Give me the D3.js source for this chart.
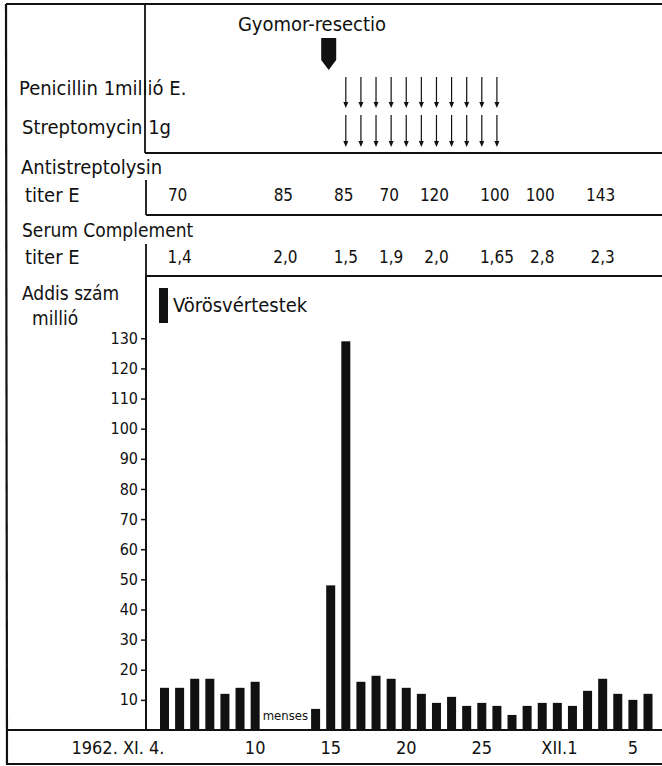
<!DOCTYPE html>
<html>
<head>
<meta charset="utf-8">
<script src="https://cdn.jsdelivr.net/npm/d3@7"></script>
<style>
  body { margin: 0; background: #fff; }
  svg text { font-family: "DejaVu Sans Condensed", "DejaVu Sans", sans-serif; fill: #111; }
</style>
</head>
<body>
<div id="chart"></div>
<script>
'use strict';

// red cell counts (Addis, millions) per day, day = day of November 1962 (31 = XII.1)
var barDays   = [4, 5, 6, 7, 8, 9, 10, 14, 15, 16, 17, 18, 19, 20, 21, 22, 23, 24, 25, 26, 27, 28, 29, 30, 31, 32, 33, 34, 35, 36];
var barValues = [14, 14, 17, 17, 12, 14, 16, 7, 48, 129, 16, 18, 17, 14, 12, 9, 11, 8, 9, 8, 5, 8, 9, 9, 8, 13, 17, 12, 10, 12];

// lab tests
var testDays = [5, 12, 16, 19, 22, 26, 29, 33];
var asoTiter = ['70', '85', '85', '70', '120', '100', '100', '143'];
var complementTiter = ['1,4', '2,0', '1,5', '1,9', '2,0', '1,65', '2,8', '2,3'];

// treatment
var surgeryDay = 15;
var antibioticDays = [16, 17, 18, 19, 20, 21, 22, 23, 24, 25, 26];
var mensesDays = [11, 12, 13];

// x axis labels
var xTickDays = [4, 10, 15, 20, 25, 31, 35];
var xTickLabels = ['1962. XI. 4.', '10', '15', '20', '25', 'XII.1', '5'];
var yTicks = [10, 20, 30, 40, 50, 60, 70, 80, 90, 100, 110, 120, 130];

var width = 662, height = 766;
var ink = '#111';

var svg = d3.select('#chart').append('svg')
    .attr('width', width)
    .attr('height', height);

// scales
var x = d3.scaleLinear().domain([4, 36]).range([164.5, 648]);
var y = d3.scaleLinear().domain([0, 130]).range([730, 338.3]);

function line(x1, y1, x2, y2, w) {
    svg.append('line')
        .attr('x1', x1).attr('y1', y1).attr('x2', x2).attr('y2', y2)
        .attr('stroke', ink).attr('stroke-width', w || 1.8);
}

function label(txt, tx, ty, size, anchor) {
    return svg.append('text')
        .attr('x', tx).attr('y', ty)
        .attr('dominant-baseline', 'central')
        .attr('text-anchor', anchor || 'start')
        .style('font-size', (size || 20) + 'px')
        .text(txt);
}

// frame and table rules
line(6, 4, 662, 4, 2.2);
line(6, 4, 7, 764, 2.2);
line(6, 764, 662, 764, 2.2);
line(145, 4, 145, 153);
line(145, 153, 662, 153);
line(146, 180, 146, 215);
line(146, 215, 662, 215);
line(146, 244, 146, 276);
line(146, 276, 662, 276);
line(146, 276, 146, 730, 2);
line(6, 730, 662, 730, 2);

// surgery marker
var sx = x(surgeryDay) - 2;
label('Gyomor-resectio', 312, 24, 20, 'middle');
svg.append('path')
    .attr('d', 'M' + (sx - 7.5) + ',38 h15 v22 l-7.5,10 l-7.5,-10 Z')
    .attr('fill', ink);

// antibiotic rows
label('Penicillin 1millió E.', 19, 88);
label('Streptomycin 1g', 22, 127);

[[77, 108], [115, 147]].forEach(function(r) {
    var g = svg.append('g');
    g.selectAll('line')
        .data(antibioticDays)
        .enter().append('line')
        .attr('x1', function(d) { return x(d); })
        .attr('x2', function(d) { return x(d); })
        .attr('y1', r[0])
        .attr('y2', r[1] - 5)
        .attr('stroke', ink)
        .attr('stroke-width', 1.2);
    g.selectAll('path')
        .data(antibioticDays)
        .enter().append('path')
        .attr('d', function(d) {
            var ax = x(d);
            return 'M' + (ax - 2.5) + ',' + (r[1] - 6) + ' L' + (ax + 2.5) + ',' + (r[1] - 6) + ' L' + ax + ',' + r[1] + ' Z';
        })
        .attr('fill', ink);
});

// antistreptolysin row
label('Antistreptolysin', 21, 167);
label('titer E', 25, 195);
svg.append('g').selectAll('text')
    .data(asoTiter)
    .enter().append('text')
    .attr('x', function(d, i) { return x(testDays[i]) - 2; })
    .attr('y', 195)
    .attr('dominant-baseline', 'central')
    .attr('text-anchor', 'middle')
    .style('font-size', '17px')
    .text(function(d) { return d; });

// serum complement row
label('Serum Complement', 22, 230, 19);
label('titer E', 25, 257);
svg.append('g').selectAll('text')
    .data(complementTiter)
    .enter().append('text')
    .attr('x', function(d, i) { return x(testDays[i]); })
    .attr('y', 257)
    .attr('dominant-baseline', 'central')
    .attr('text-anchor', 'middle')
    .style('font-size', '17px')
    .text(function(d) { return d; });

// bar chart
label('Addis szám', 22, 293, 19);
label('millió', 32, 318, 19);

svg.append('rect')
    .attr('x', 159).attr('y', 288)
    .attr('width', 9).attr('height', 35)
    .attr('fill', ink);
label('Vörösvértestek', 173, 305);

var bw = 9;
svg.append('g').selectAll('rect')
    .data(barValues)
    .enter().append('rect')
    .attr('x', function(d, i) { return x(barDays[i]) - bw / 2; })
    .attr('y', function(d) { return y(d); })
    .attr('width', bw)
    .attr('height', function(d) { return y(0) - y(d); })
    .attr('fill', ink);

label('menses', x(d3.mean(mensesDays)), 715, 13, 'middle');

var yAxis = d3.axisLeft(y)
    .tickValues(yTicks)
    .tickSize(5)
    .tickPadding(3);

var ay = svg.append('g')
    .attr('transform', 'translate(146,0)')
    .call(yAxis);
ay.select('.domain').remove();
ay.selectAll('line').attr('stroke', ink).attr('stroke-width', 1.5);
ay.selectAll('text').style('font-size', '16px').attr('fill', ink)
    .style('font-family', '"DejaVu Sans Condensed", "DejaVu Sans", sans-serif');

// date labels
svg.append('g').selectAll('text')
    .data(xTickLabels)
    .enter().append('text')
    .attr('x', function(d, i) {
        var px = x(xTickDays[i]);
        if (i === 0) return px;
        if (d === 'XII.1') return px + 5;
        return px;
    })
    .attr('y', 747)
    .attr('dominant-baseline', 'central')
    .attr('text-anchor', function(d, i) { return (i === 0 || d === 'XII.1') ? 'end' : 'middle'; })
    .style('font-size', '18px')
    .text(function(d) { return d; });
</script>
</body>
</html>
